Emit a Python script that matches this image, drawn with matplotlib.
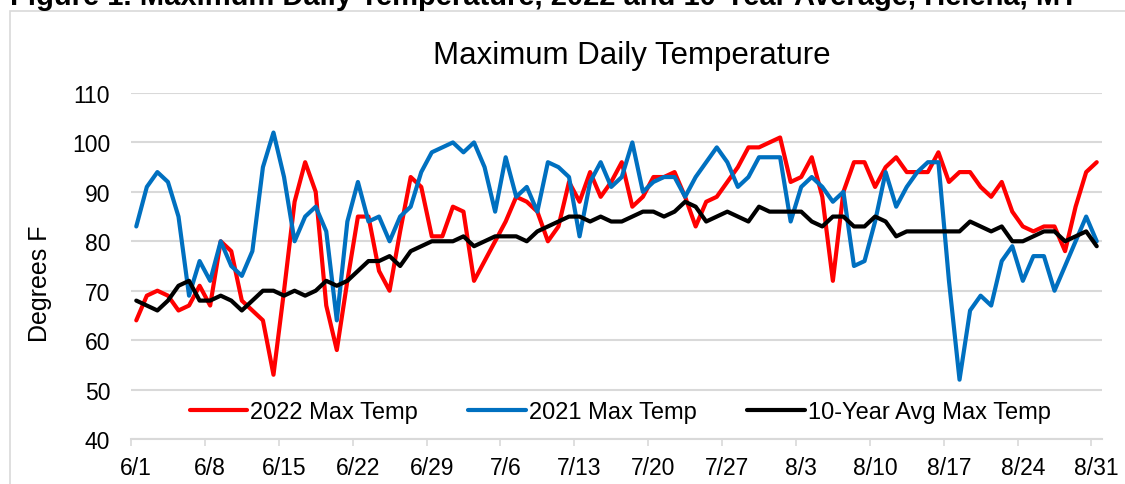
import matplotlib
matplotlib.use("Agg")
import matplotlib.pyplot as plt
from matplotlib.patches import Rectangle

plt.rcParams['font.family'] = ['Liberation Sans', 'DejaVu Sans']

tick_labels = ["6/1", "6/8", "6/15", "6/22", "6/29", "7/6", "7/13", "7/20",
               "7/27", "8/3", "8/10", "8/17", "8/24", "8/31"]

temp_2022 = [64, 69, 70, 69, 66, 67, 71, 67, 80, 78,
             68, 66, 64, 53, 70, 88, 96, 90, 67, 58,
             72, 85, 85, 74, 70, 82, 93, 91, 81, 81,
             87, 86, 72, 76, 80, 84, 89, 88, 86, 80,
             83, 92, 88, 94, 89, 92, 96, 87, 89, 93,
             93, 94, 89, 83, 88, 89, 92, 95, 99, 99,
             100, 101, 92, 93, 97, 89, 72, 90, 96, 96,
             91, 95, 97, 94, 94, 94, 98, 92, 94, 94,
             91, 89, 92, 86, 83, 82, 83, 83, 78, 87,
             94, 96]

temp_2021 = [83, 91, 94, 92, 85, 69, 76, 72, 80, 75,
             73, 78, 95, 102, 93, 80, 85, 87, 82, 64,
             84, 92, 84, 85, 80, 85, 87, 94, 98, 99,
             100, 98, 100, 95, 86, 97, 89, 91, 86, 96,
             95, 93, 81, 92, 96, 91, 93, 100, 90, 92,
             93, 93, 89, 93, 96, 99, 96, 91, 93, 97,
             97, 97, 84, 91, 93, 91, 88, 90, 75, 76,
             84, 94, 87, 91, 94, 96, 96, 72, 52, 66,
             69, 67, 76, 79, 72, 77, 77, 70, 75, 80,
             85, 80]

temp_avg10 = [68, 67, 66, 68, 71, 72, 68, 68, 69, 68,
              66, 68, 70, 70, 69, 70, 69, 70, 72, 71,
              72, 74, 76, 76, 77, 75, 78, 79, 80, 80,
              80, 81, 79, 80, 81, 81, 81, 80, 82, 83,
              84, 85, 85, 84, 85, 84, 84, 85, 86, 86,
              85, 86, 88, 87, 84, 85, 86, 85, 84, 87,
              86, 86, 86, 86, 84, 83, 85, 85, 83, 83,
              85, 84, 81, 82, 82, 82, 82, 82, 82, 84,
              83, 82, 83, 80, 80, 81, 82, 82, 80, 81,
              82, 79]

days = list(range(len(temp_2022)))
label_pos = [7 * k for k in range(len(tick_labels))]
tickmark_pos = [7 * k - 0.5 for k in range(len(tick_labels))]

W, H = 1125, 485
fig = plt.figure(figsize=(W / 100, H / 100), dpi=100)

# outer chart border
fig.patches.append(Rectangle((10 / W, -0.01), 1.02, 1 - 12 / H + 0.01,
                             transform=fig.transFigure, fill=False,
                             edgecolor='#D9D9D9', linewidth=1.2))

# partially cut figure caption
fig.text(10 / W, 1 - 5 / H, "Figure 1. Maximum Daily Temperature, 2022 and 10-Year Average, Helena, MT",
         fontsize=21, fontweight='bold', ha='left', va='baseline')

ax = fig.add_axes([131 / W, 1 - 440 / H, (1102 - 131) / W, (440 - 94) / H])

grid_c = '#D9D9D9'
lw = 3.0
l1, = ax.plot(days, temp_2022, color='#FF0000', lw=lw, solid_joinstyle='round',
              solid_capstyle='round', label='2022 Max Temp', zorder=3)
l2, = ax.plot(days, temp_2021, color='#0070C0', lw=lw, solid_joinstyle='round',
              solid_capstyle='round', label='2021 Max Temp', zorder=4)
l3, = ax.plot(days, temp_avg10, color='#000000', lw=lw, solid_joinstyle='round',
              solid_capstyle='round', label='10-Year Avg Max Temp', zorder=5)

ax.set_xlim(-0.5, 91.5)
ax.set_ylim(40, 110)
ax.set_yticks(range(40, 111, 10))
ax.set_xticks(label_pos)
ax.set_xticklabels(tick_labels)
ax.set_xticks(tickmark_pos, minor=True)
ax.yaxis.grid(True, color=grid_c, linewidth=1.5)
ax.set_axisbelow(True)
for s in ['top', 'right', 'left']:
    ax.spines[s].set_visible(False)
ax.spines['bottom'].set_color(grid_c)
ax.spines['bottom'].set_linewidth(1.5)
ax.tick_params(axis='y', length=0, labelsize=16.5, pad=15)
ax.tick_params(axis='x', which='major', length=0, labelsize=16.5, pad=12)
ax.tick_params(axis='x', which='minor', length=5, color=grid_c, width=1.2, direction='out')

fig.text(40 / W, 1 - 284 / H, "Degrees F", fontsize=18, rotation=90, ha='center', va='center')
fig.text(632 / W, 1 - 56 / H, "Maximum Daily Temperature", fontsize=22.5, ha='center', va='center')

fig.legend(handles=[l1, l2, l3], loc='center', bbox_to_anchor=(620 / W, 1 - 413 / H),
           ncol=3, frameon=False, fontsize=17, handlelength=2.42, handletextpad=0.13,
           columnspacing=2.16, borderpad=0, borderaxespad=0)

fig.savefig("out.png", dpi=100)
